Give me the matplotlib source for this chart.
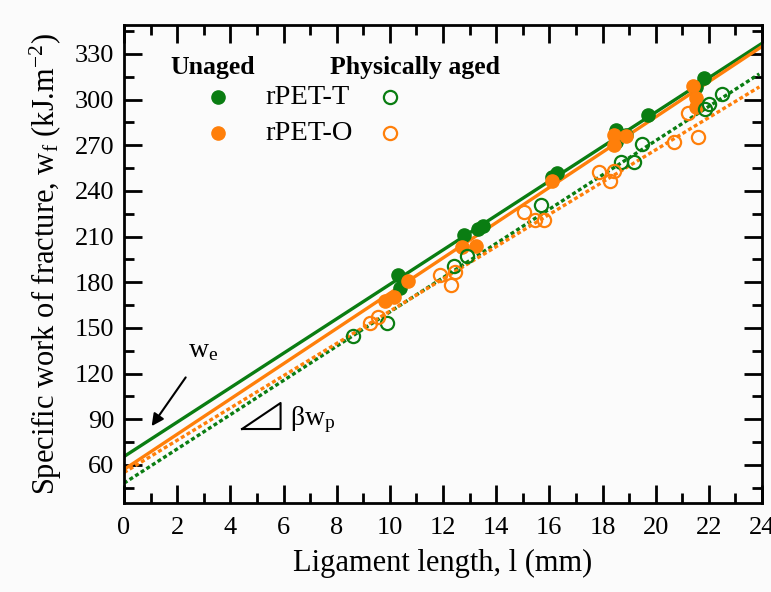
import numpy as np
import matplotlib
matplotlib.use("Agg")
import matplotlib.pyplot as plt

plt.rcParams['font.family'] = ['Liberation Serif', 'DejaVu Serif']
plt.rcParams['mathtext.fontset'] = 'custom'
plt.rcParams['mathtext.rm'] = 'Liberation Serif'
plt.rcParams['mathtext.it'] = 'Liberation Serif'
plt.rcParams['mathtext.bf'] = 'Liberation Serif:bold'

# ---- data ----
t_unaged_x = [10.3, 10.4, 12.8, 13.3, 13.5, 16.1, 16.3, 18.5, 18.5, 18.9, 19.7, 21.5, 21.8]
t_unaged_y = [185, 176, 211, 215, 217, 249, 252, 280, 272, 277, 290, 308, 314]
o_unaged_x = [9.8, 10.15, 10.7, 12.7, 13.25, 16.1, 18.45, 18.45, 18.9, 21.4, 21.5, 21.5]
o_unaged_y = [167.5, 170.5, 181, 203, 204, 246.5, 277, 270, 276, 309, 301, 295]
t_aged_x = [8.6, 9.9, 12.4, 12.9, 15.7, 18.7, 19.2, 19.5, 21.85, 22.0, 22.5]
t_aged_y = [145, 153, 191, 197, 231, 259, 259, 271, 294, 297, 304]
o_aged_x = [9.25, 9.55, 11.9, 12.3, 12.45, 15.05, 15.45, 15.8, 17.85, 18.3, 18.45, 20.7, 21.2, 21.6]
o_aged_y = [153.5, 157.5, 185, 178, 187, 226, 221, 221, 252.5, 246.5, 253, 272, 291, 275.5]

# linear fits: intercept (w_e) and slope (beta w_p)
fit_intercepts = [65.5, 57.0, 48.0, 55.0]   # T unaged, O unaged, T aged, O aged
fit_slopes = [11.31, 11.58, 11.25, 10.6]
fit_xend = [24.0, 24.0, 23.9, 23.9]

x_ticks = list(range(0, 25, 2))
y_ticks = list(range(60, 331, 30))

green = '#0a7d12'
orange = '#ff7f0a'

fig = plt.figure(figsize=(7.71, 5.92), dpi=100)
fig.patch.set_facecolor('#fbfbfb')
ax = fig.add_axes([124/771, 1-503/592, 638/771, 478/592])
ax.set_facecolor('#fbfbfb')

styles = [(green, '-'), (orange, '-'), (green, (0, (1.2, 0.8))), (orange, (0, (1.2, 0.8)))]
for b, m, xe, (c, ls) in zip(fit_intercepts, fit_slopes, fit_xend, styles):
    xx = np.array([0.0, xe])
    ax.plot(xx, b + m*xx, color=c, ls=ls, lw=2.4, zorder=2)

ms = 9.5
ax.plot(t_unaged_x, t_unaged_y, 'o', color=green, ms=ms, mec=green, zorder=3)
ax.plot(o_unaged_x, o_unaged_y, 'o', color=orange, ms=ms, mec=orange, zorder=3)
ax.plot(t_aged_x, t_aged_y, 'o', mfc='none', mec=green, mew=1.6, ms=ms, zorder=3)
ax.plot(o_aged_x, o_aged_y, 'o', mfc='none', mec=orange, mew=1.6, ms=ms, zorder=3)

ax.set_xlim(0, 24)
ax.set_ylim(35, 349)
ax.set_xticks(x_ticks)
ax.set_xticks(np.arange(1, 24, 2), minor=True)
ax.set_yticks(y_ticks)
ax.set_yticks(np.arange(45, 349, 30), minor=True)
ax.tick_params(which='both', direction='in', top=True, right=True, labelsize=19, width=2)
ax.tick_params(which='major', length=13)
ax.tick_params(which='minor', length=7)
ax.tick_params(axis='x', pad=10)
ax.tick_params(axis='y', pad=7)
for s in ax.spines.values():
    s.set_linewidth(2)

ax.set_xlabel('Ligament length, l (mm)', fontsize=22, labelpad=7)
ax.set_ylabel('Specific work of fracture, w$_\\mathrm{f}$ (kJ.m$^{-2}$)', fontsize=22, labelpad=8)

# legend (manual)
ax.text(0.072, 0.912, 'Unaged', transform=ax.transAxes, fontsize=18.5, fontweight='bold', va='center', ha='left')
ax.text(0.323, 0.912, 'Physically aged', transform=ax.transAxes, fontsize=18.5, fontweight='bold', va='center', ha='left')
ax.plot([0.147], [0.849], 'o', color=green, ms=ms, transform=ax.transAxes)
ax.plot([0.417], [0.849], 'o', mfc='none', mec=green, mew=1.6, ms=ms, transform=ax.transAxes)
ax.plot([0.147], [0.774], 'o', color=orange, ms=ms, transform=ax.transAxes)
ax.plot([0.417], [0.774], 'o', mfc='none', mec=orange, mew=1.6, ms=ms, transform=ax.transAxes)
ax.text(0.221, 0.849, 'rPET-T', transform=ax.transAxes, fontsize=20.5, va='center', ha='left')
ax.text(0.221, 0.774, 'rPET-O', transform=ax.transAxes, fontsize=20.5, va='center', ha='left')

# annotations
ax.annotate('', xy=(0.98, 84), xytext=(2.38, 119),
            arrowprops=dict(arrowstyle='-|>', color='black', lw=1.5, mutation_scale=18))
ax.text(2.4, 127, 'w$_\\mathrm{e}$', fontsize=20, va='bottom', ha='left')
ax.plot([4.44, 5.89, 5.89, 4.44], [83.6, 100.7, 83.6, 83.6], color='black', lw=1.5)
ax.text(6.25, 90, '$\\mathrm{\\beta w_p}$', fontsize=20, va='center', ha='left')

fig.savefig('out.png', dpi=100, facecolor=fig.get_facecolor())
